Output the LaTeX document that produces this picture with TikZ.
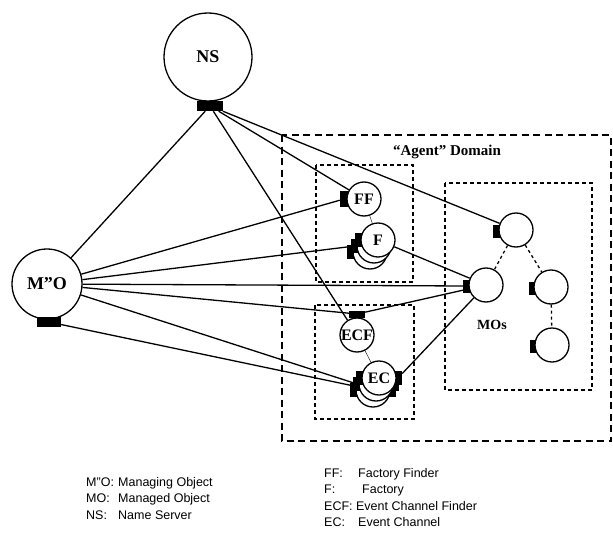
\documentclass[tikz,border=0pt]{standalone}
\usepackage{fontspec}
\setmainfont{Liberation Serif}
\newfontfamily\legendfont{Liberation Sans}
\pgfdeclarelayer{bg}
\pgfsetlayers{bg,main}
\tikzset{
    every node/.style={inner sep=0mm},
    bigobj/.style={circle, draw, line width=1.3pt, fill=white, minimum size=#1, font=\bfseries\fontsize{18}{18}\selectfont},
    obj/.style={circle, draw, line width=1.3pt, fill=white, minimum size=34, font=\bfseries\fontsize{16}{16}\selectfont},
    hport/.style={rectangle, fill=black, minimum width=#1, minimum height=10},
    vport/.style={rectangle, fill=black, minimum width=8, minimum height=#1},
    tport/.style={rectangle, fill=black, minimum width=16, minimum height=7},
    domainbox/.style={line width=1.4pt, dash pattern=on 7pt off 4.5pt},
    subdomainbox/.style={line width=1.4pt, dash pattern=on 4pt off 3pt},
    link/.style={line width=1.3pt},
    legend/.style={anchor=west, font=\legendfont\fontsize{12.5}{15}\selectfont}
}
\begin{document}
\begin{tikzpicture}[x=1pt, y=-1pt]
        \useasboundingbox (0,0) rectangle (613,535);
        % domains
        \draw [domainbox] (282,135) rectangle (611,441);
        \draw [subdomainbox] (316,165) rectangle (413,282);
        \draw [subdomainbox] (315,305) rectangle (414,419);
        \draw [subdomainbox] (445,183) rectangle (592,390);
        \node (agentlbl) [font=\bfseries\fontsize{15}{15}\selectfont] at (447,152) {“Agent” Domain};
        \node (moslbl) [font=\bfseries\fontsize{14}{14}\selectfont] at (492,325) {MOs};
        % managing side
        \node (ns) [bigobj=88] at (208,57) {NS};
        \node (nsp) [hport=26] at (210,106) {};
        \node (mo) [bigobj=70] at (47,284) {M”O};
        \node (mop) [hport=24] at (49,322) {};
        % factories
        \node (ffp) [vport=16] at (344,199) {};
        \node (ff) [obj] at (364,199) {FF};
        \node (fp2) [vport=14] at (351,252) {};
        \node (fs2) [obj] at (370,252) {};
        \node (fp1) [vport=14] at (355,246) {};
        \node (fs1) [obj] at (374,246) {};
        \node (fp0) [vport=14] at (359,240) {};
        \node (f) [obj] at (378,240) {F};
        % event channels
        \node (ecfp) [tport] at (357,314) {};
        \node (ecf) [obj] at (357,335) {ECF};
        \node (ecp2) [vport=14] at (354,390) {};
        \node (ecrp2) [vport=14] at (392,390) {};
        \node (ecs2) [obj] at (373,390) {};
        \node (ecp1) [vport=14] at (357,384) {};
        \node (ecrp1) [vport=14] at (395,384) {};
        \node (ecs1) [obj] at (376,384) {};
        \node (ecp0) [vport=14] at (360,378) {};
        \node (ecrp0) [vport=14] at (398,378) {};
        \node (ec) [obj] at (379,378) {EC};
        % managed objects
        \node (mo1p) [vport=13] at (497,231) {};
        \node (mo1) [obj] at (516,230) {};
        \node (mo2p) [vport=13] at (467,286) {};
        \node (mo2) [obj] at (486,285) {};
        \node (mo3p) [vport=13] at (533,288) {};
        \node (mo3) [obj] at (551,287) {};
        \node (mo4p) [vport=13] at (534,346) {};
        \node (mo4) [obj] at (552,345) {};
        % legend
        \node (lg1) [legend] at (86,483) {\makebox[32pt][l]{M”O:}Managing Object};
        \node (lg2) [legend] at (86,499) {\makebox[32pt][l]{MO:}Managed Object};
        \node (lg3) [legend] at (86,515) {\makebox[32pt][l]{NS:}Name Server};
        \node (lg4) [legend] at (324,474) {\makebox[34pt][l]{FF:}Factory Finder};
        \node (lg5) [legend] at (324,490) {\makebox[38pt][l]{F:}Factory};
        \node (lg6) [legend] at (324,506) {ECF: Event Channel Finder};
        \node (lg7) [legend] at (324,522) {\makebox[34pt][l]{EC:}Event Channel};
        \begin{pgfonlayer}{bg}
                \draw (nsp) edge [link] (mo);
                \draw (nsp) edge [link] (ecf);
                \draw (nsp) edge [link] (ff);
                \draw (nsp) edge [link] (mo1);
                \draw (mo) edge [link] (ffp);
                \draw (mo) edge [link] (fp1);
                \draw (mo) edge [link] (mo2p);
                \draw (mo) edge [link] (ecfp);
                \draw (mo) edge [link] (ecp1);
                \draw (mop) edge [link] (ecs2);
                \draw (f) edge [link] (mo2);
                \draw (ecfp) edge [link] (mo2);
                \draw (ecrp0) edge [link] (mo2);
                \draw (ff) edge [thin] (f);
                \draw (ecf) edge [thin] (ec);
                \draw (mo1) edge [link, dashed] (mo2);
                \draw (mo1) edge [link, dashed] (mo3);
                \draw (mo3) edge [link, dashed] (mo4);
        \end{pgfonlayer}
\end{tikzpicture}
\end{document}
